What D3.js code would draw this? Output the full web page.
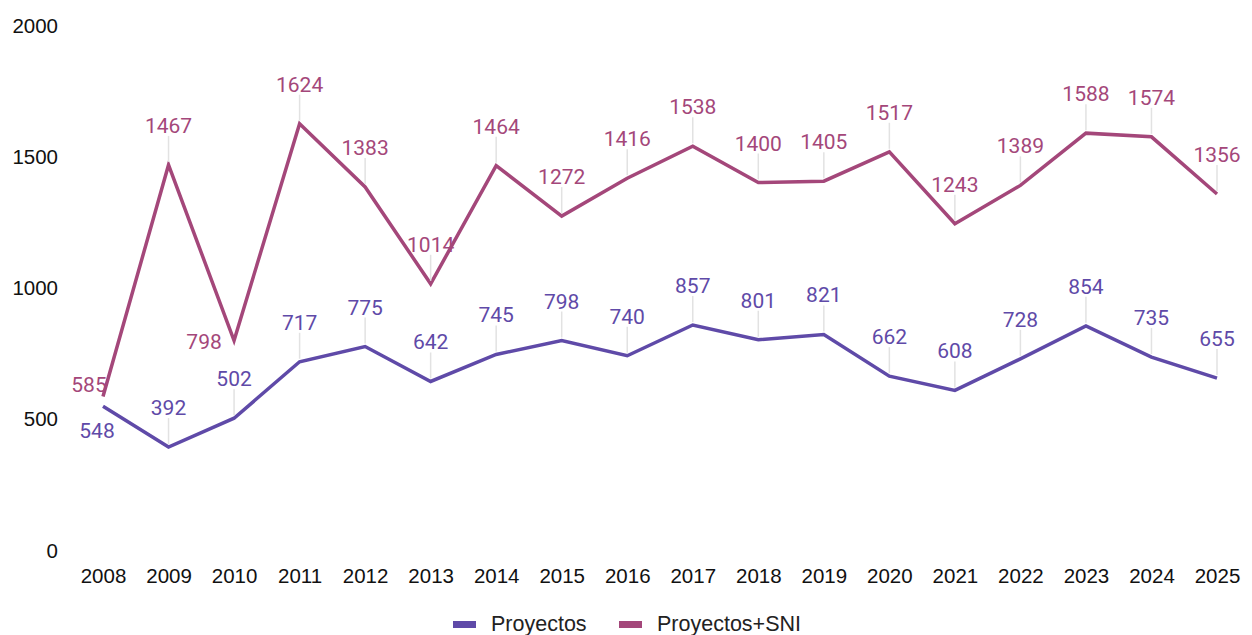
<!DOCTYPE html>
<meta charset="utf-8">
<style>
body { margin: 0; background: #fff; }
.tick text { font-family: "Liberation Sans", Arial, sans-serif; font-size: 20.5px; fill: #111; }
.lbl { font-family: Roboto, sans-serif; font-size: 21px; }
</style>
<svg width="1252" height="635"></svg>
<script src="https://d3js.org/d3.v7.min.js"></script>
<script>

var years = [2008,2009,2010,2011,2012,2013,2014,2015,2016,2017,2018,2019,2020,2021,2022,2023,2024,2025];
var proyectos = [548,392,502,717,775,642,745,798,740,857,801,821,662,608,728,854,735,655];
var proyectosSni = [585,1467,798,1624,1383,1014,1464,1272,1416,1538,1400,1405,1517,1243,1389,1588,1574,1356];
var yTicks = [0,500,1000,1500,2000];

var series = [
  {name: "Proyectos", values: proyectos, color: "#5f4aa8"},
  {name: "Proyectos+SNI", values: proyectosSni, color: "#a4477a"}
];

// labels that don't sit straight above their point: [dx, dy]
var special = {
  "Proyectos-0": [-6, 32],
  "Proyectos+SNI-0": [-14, -4],
  "Proyectos+SNI-2": [-30, 8]
};

var svg = d3.select("svg");

var x = d3.scalePoint()
  .domain(years)
  .range([103, 1217]);

var y = d3.scaleLinear()
  .domain([0, 2000])
  .range([550, 25]);

var yAxis = svg.append("g")
  .attr("transform", "translate(58,0)")
  .call(d3.axisLeft(y).tickValues(yTicks).tickSize(0).tickPadding(0).tickFormat(d3.format("d")));
yAxis.select(".domain").remove();
yAxis.selectAll("text").attr("dy", "0.35em");

var xAxis = svg.append("g")
  .attr("transform", "translate(0,568)")
  .call(d3.axisBottom(x).tickSize(0).tickPadding(0).tickFormat(d3.format("d")));
xAxis.select(".domain").remove();
xAxis.selectAll("text").attr("dy", "0.71em");

var line = d3.line()
  .x(function(d, i) { return x(years[i]); })
  .y(function(d) { return y(d); });

series.forEach(function(s) {
  svg.append("path")
    .datum(s.values)
    .attr("fill", "none")
    .attr("stroke", s.color)
    .attr("stroke-width", 3.5)
    .attr("d", line);
});

series.forEach(function(s) {
  var g = svg.append("g");
  s.values.forEach(function(v, i) {
    var px = x(years[i]), py = y(v);
    var sp = special[s.name + "-" + i];
    if (!sp) {
      g.append("line")
        .attr("x1", px).attr("x2", px)
        .attr("y1", py - 3).attr("y2", py - 29)
        .attr("stroke", "#e2e2e2")
        .attr("stroke-width", 1.5);
      g.append("text")
        .attr("class", "lbl")
        .attr("x", px).attr("y", py - 32)
        .attr("text-anchor", "middle")
        .attr("fill", s.color)
        .text(v);
    } else {
      g.append("text")
        .attr("class", "lbl")
        .attr("x", px + sp[0]).attr("y", py + sp[1])
        .attr("text-anchor", "middle")
        .attr("fill", s.color)
        .text(v);
    }
  });
});

// legend
var legend = svg.append("g");
var legendX = [453, 619];
series.forEach(function(s, i) {
  legend.append("rect")
    .attr("x", legendX[i]).attr("y", 621)
    .attr("width", 23).attr("height", 7)
    .attr("fill", s.color);
  legend.append("text")
    .attr("x", legendX[i] + 38).attr("y", 631)
    .attr("font-family", "'Liberation Sans', Arial, sans-serif")
    .attr("font-size", 21.5)
    .attr("fill", "#222")
    .text(s.name);
});

</script>
